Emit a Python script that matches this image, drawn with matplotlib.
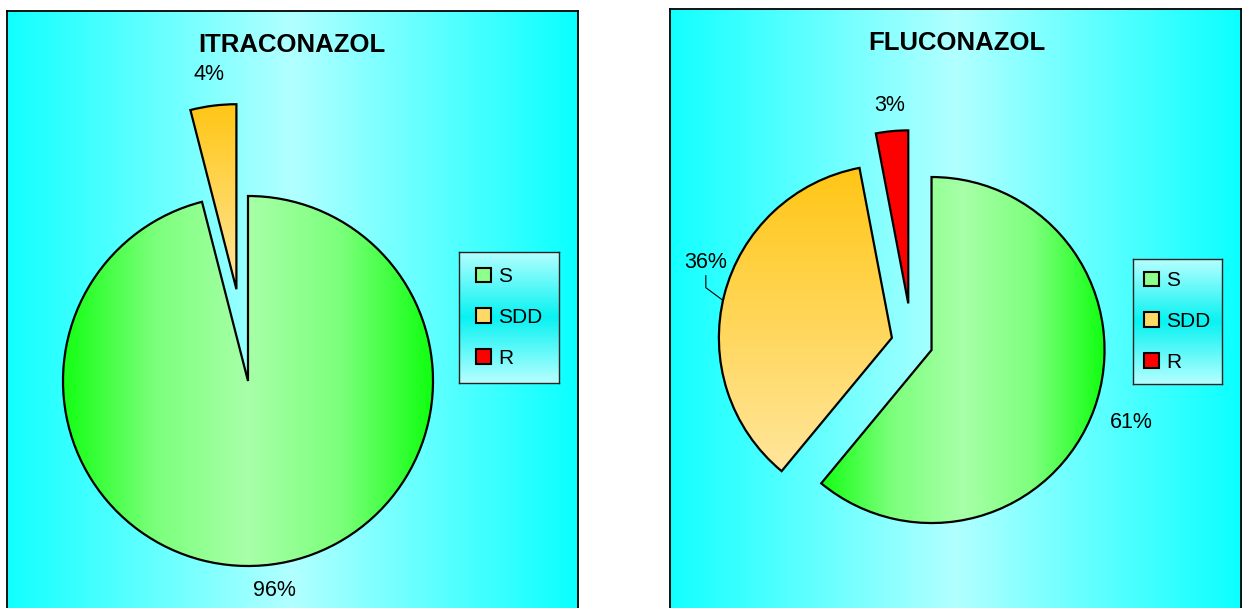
import numpy as np
import matplotlib
matplotlib.use('Agg')
import matplotlib.pyplot as plt
from matplotlib.colors import LinearSegmentedColormap
from matplotlib.patches import Patch

plt.rcParams['font.family'] = ['Liberation Sans', 'DejaVu Sans']

# ---------------- data ----------------
categories = ['S', 'SDD', 'R']
itraconazol = [96, 4, 0]
fluconazol = [61, 36, 3]
titles = ['ITRACONAZOL', 'FLUCONAZOL']

# ---------------- layout / style ----------------
W, H = 1242, 608
fig = plt.figure(figsize=(W / 100, H / 100), dpi=100)
fig.patch.set_facecolor('white')

panel_cmap = LinearSegmentedColormap.from_list('panel', ['#12FFFF', '#B2FFFF', '#0AFFFF'])
legend_cmap = LinearSegmentedColormap.from_list('leg', ['#B6FFFF', '#08F2F2', '#B6FFFF'])
green_cmap = LinearSegmentedColormap.from_list('green', ['#14FF14', '#7CFF7C', '#A8FFA8', '#7CFF7C', '#10FF10'])
orange_cmap = LinearSegmentedColormap.from_list('orange', ['#FFE69C', '#FFC615'])
red_cmap = LinearSegmentedColormap.from_list('red', ['#FF0000', '#FF0000'])
wedge_cmaps = [(green_cmap, True), (orange_cmap, False), (red_cmap, True)]
legend_colors = ['#8CFF8C', '#FFD966', '#FF0000']

charts = [
    dict(values=itraconazol, title=titles[0], panel=(7, 11, 578, 620), center=(248, 381), r=185,
         explode=[0, 0.5, 0], title_pos=(292, 45), label_dist=[1.14, 1.17, 1.15],
         legend_box=(459, 252, 559, 383)),
    dict(values=fluconazol, title=titles[1], panel=(670, 9, 1241, 620), center=(912, 343), r=173,
         explode=[0.12, 0.12, 0.23], title_pos=(957, 43), label_dist=[1.23, 1.16, 1.15],
         legend_box=(1133, 259, 1222, 384)),
]


def px_axes(x0, y0, x1, y1, **kw):
    return fig.add_axes([x0 / W, 1 - y1 / H, (x1 - x0) / W, (y1 - y0) / H], **kw)


def grad_fill(ax, wedge, cmap, horizontal):
    bb = wedge.get_path().get_extents()
    g = np.linspace(0, 1, 256)
    img = g[None, :] if horizontal else g[:, None]
    im = ax.imshow(img, cmap=cmap, extent=[bb.x0, bb.x1, bb.y0, bb.y1], origin='lower',
                   aspect='auto', zorder=0.5, interpolation='bilinear')
    im.set_clip_path(wedge)
    wedge.set_facecolor('none')
    wedge.set_zorder(1)


for ch in charts:
    x0, y0, x1, y1 = ch['panel']
    # panel background
    bg = px_axes(x0, y0, x1, y1)
    bg.imshow(np.linspace(0, 1, 256)[None, :], cmap=panel_cmap, extent=[0, 1, 0, 1],
              aspect='auto', interpolation='bilinear')
    bg.set_xticks([]); bg.set_yticks([])
    for s in bg.spines.values():
        s.set_color('black'); s.set_linewidth(1.3)

    # pie axes in pixel units around the pie centre
    cx, cy = ch['center']
    ax = px_axes(x0, y0, x1, y1)
    ax.patch.set_alpha(0)
    r = ch['r']
    vals = ch['values']
    wedges, _ = ax.pie(vals, radius=r, startangle=90, counterclock=False,
                       explode=[e * r for e in ch['explode']],
                       wedgeprops=dict(edgecolor='black', linewidth=1.6))
    for w, v, (cm, hor) in zip(wedges, vals, wedge_cmaps):
        if v == 0:
            w.set_visible(False)
            continue
        grad_fill(ax, w, cm, hor)

    # percentage labels
    for i, (w, v) in enumerate(zip(wedges, vals)):
        if v == 0:
            continue
        th = np.deg2rad((w.theta1 + w.theta2) / 2)
        wx, wy = w.center
        d = ch['label_dist'][i]
        if ch['title'] == 'FLUCONAZOL' and categories[i] == 'SDD':
            # best-fit label pushed up with a leader line
            tl = np.deg2rad(158)
            tx, ty = wx + d * r * np.cos(tl), wy + d * r * np.sin(tl)
            ta = np.deg2rad(167.5)
            ex, ey = wx + r * np.cos(ta), wy + r * np.sin(ta)
            ax.plot([tx, tx, ex], [ty - 13, ty - 25, ey], color='black', lw=0.8, zorder=2)
        else:
            tx, ty = wx + d * r * np.cos(th), wy + d * r * np.sin(th)
        ax.text(tx, ty, f'{v}%', ha='center', va='center', fontsize=15.5, zorder=3)

    ax.set_xlim(x0 - cx, x1 - cx)
    ax.set_ylim(cy - y1, cy - y0)
    ax.set_aspect('auto')
    ax.axis('off')

    # title
    tx, ty = ch['title_pos']
    fig.text(tx / W, 1 - ty / H, ch['title'], ha='center', va='center',
             fontsize=18.5, fontweight='bold')

    # legend box with vertical gradient
    lx0, ly0, lx1, ly1 = ch['legend_box']
    lax = px_axes(lx0, ly0, lx1, ly1)
    lax.imshow(np.linspace(0, 1, 256)[:, None], cmap=legend_cmap, extent=[0, 1, 0, 1],
               aspect='auto', interpolation='bilinear')
    lax.set_xticks([]); lax.set_yticks([])
    for s in lax.spines.values():
        s.set_color('#222222'); s.set_linewidth(1.0)
    handles = [Patch(facecolor=c, edgecolor='black', linewidth=1.5) for c in legend_colors]
    lax.legend(handles, categories, loc='center', frameon=False, fontsize=15,
               handlelength=0.7, handleheight=0.7, handletextpad=0.35,
               labelspacing=1.05, borderpad=0.2)

fig.savefig('out.png', dpi=100)
